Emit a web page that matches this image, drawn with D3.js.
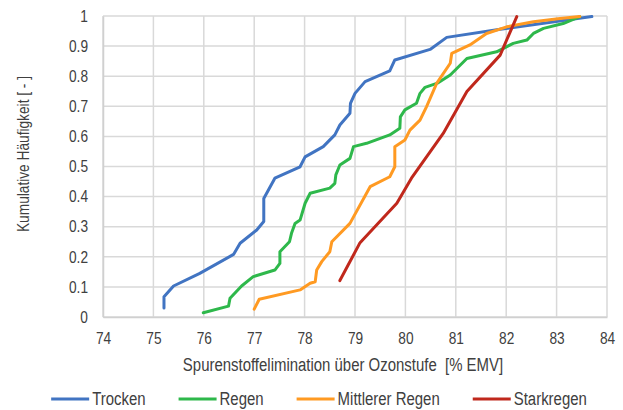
<!DOCTYPE html>
<html>
<head>
<meta charset="utf-8">
<script src="https://cdn.jsdelivr.net/npm/d3@7"></script>
<style>
  html, body { margin: 0; padding: 0; background: #fff; }
  svg { display: block; }
  text { font-family: "Liberation Sans Narrow", "Arial Narrow", "Liberation Sans", Arial, sans-serif; fill: #404040; }
</style>
</head>
<body>
<svg id="chart" width="623" height="410"></svg>
<script>
// Cumulative frequency of micropollutant elimination across the ozone stage, per weather class
const seriesNames = ["Trocken", "Regen", "Mittlerer Regen", "Starkregen"];
const seriesColors = ["#4174c2", "#2eb84b", "#ff9a22", "#c0281c"];

const trocken = [
  [75.21, 0.030], [75.21, 0.067], [75.40, 0.103], [75.92, 0.145], [76.59, 0.208],
  [76.72, 0.245], [77.05, 0.289], [77.19, 0.317], [77.19, 0.394], [77.41, 0.461],
  [77.91, 0.499], [78.01, 0.532], [78.37, 0.566], [78.60, 0.605], [78.70, 0.638],
  [78.90, 0.677], [78.91, 0.710], [79.00, 0.743], [79.20, 0.782], [79.69, 0.818],
  [79.79, 0.854], [80.49, 0.889], [80.82, 0.929], [81.88, 0.956], [83.70, 0.998]
];

const regen = [
  [75.99, 0.014], [76.49, 0.036], [76.52, 0.062], [76.75, 0.103], [76.98, 0.134],
  [77.41, 0.156], [77.51, 0.178], [77.51, 0.217], [77.70, 0.250], [77.74, 0.278],
  [77.81, 0.311], [77.91, 0.322], [78.01, 0.378], [78.11, 0.411], [78.50, 0.428],
  [78.60, 0.444], [78.62, 0.472], [78.70, 0.505], [78.90, 0.527], [78.97, 0.566],
  [79.23, 0.577], [79.69, 0.605], [79.89, 0.627], [79.90, 0.665], [79.99, 0.688],
  [80.22, 0.710], [80.29, 0.743], [80.39, 0.763], [80.65, 0.778], [80.89, 0.804],
  [81.22, 0.859], [81.81, 0.881], [82.14, 0.909], [82.41, 0.920], [82.54, 0.942],
  [82.74, 0.959], [83.13, 0.975], [83.46, 0.998]
];

const mittlererRegen = [
  [77.00, 0.026], [77.10, 0.059], [77.91, 0.090], [78.11, 0.112], [78.21, 0.117],
  [78.24, 0.156], [78.34, 0.184], [78.50, 0.217], [78.54, 0.250], [78.90, 0.311],
  [79.30, 0.433], [79.69, 0.466], [79.79, 0.499], [79.79, 0.566], [79.99, 0.588],
  [80.09, 0.621], [80.29, 0.654], [80.42, 0.699], [80.62, 0.776], [80.89, 0.843],
  [80.92, 0.876], [81.28, 0.904], [81.61, 0.942], [82.01, 0.964], [82.54, 0.981],
  [83.07, 0.992], [83.46, 0.998]
];

const starkregen = [
  [78.70, 0.121], [79.10, 0.247], [79.83, 0.378], [80.12, 0.461], [80.75, 0.610],
  [81.22, 0.749], [81.88, 0.870], [82.21, 0.998]
];

const xTicks = [74, 75, 76, 77, 78, 79, 80, 81, 82, 83, 84];
const yTicks = [0, 0.1, 0.2, 0.3, 0.4, 0.5, 0.6, 0.7, 0.8, 0.9, 1];

const xTitle = "Spurenstoffelimination über Ozonstufe  [% EMV]";
const yTitle = "Kumulative Häufigkeit [ - ]";

const allSeries = [trocken, regen, mittlererRegen, starkregen];

const svg = d3.select("#chart");
const plot = { left: 103, right: 607, top: 16, bottom: 317 };

const x = d3.scaleLinear().domain([74, 84]).range([plot.left, plot.right]);
const y = d3.scaleLinear().domain([0, 1]).range([plot.bottom, plot.top]);

// Squeeze text horizontally to get a narrow typeface look
function condense(sel, k) {
  sel.each(function () {
    const w = this.getComputedTextLength();
    d3.select(this).attr("textLength", w * k).attr("lengthAdjust", "spacingAndGlyphs");
  });
}
const NARROW = 0.83;

// Grid
const grid = svg.append("g").attr("class", "grid");
grid.selectAll("line.v").data(xTicks).join("line")
  .attr("x1", d => x(d)).attr("x2", d => x(d))
  .attr("y1", plot.top).attr("y2", plot.bottom)
  .attr("stroke", "#d9d9d9").attr("stroke-width", 1.5);
grid.selectAll("line.h").data(yTicks).join("line")
  .attr("x1", plot.left).attr("x2", plot.right)
  .attr("y1", d => y(d)).attr("y2", d => y(d))
  .attr("stroke", "#d9d9d9").attr("stroke-width", 1.5);

// Axes
const xAxis = d3.axisBottom(x).tickValues(xTicks).tickSize(0).tickPadding(15).tickFormat(d3.format("d"));
const yAxis = d3.axisLeft(y).tickValues(yTicks).tickSize(0).tickPadding(15).tickFormat(d => String(+d.toFixed(1)));

const gx = svg.append("g").attr("transform", `translate(0,${plot.bottom})`).call(xAxis);
const gy = svg.append("g").attr("transform", `translate(${plot.left},0)`).call(yAxis);
[gx, gy].forEach(g => {
  g.select(".domain").attr("stroke", "#d0d0d0").attr("stroke-width", 1.5);
  g.selectAll("text").attr("font-size", 16.5).attr("fill", "#404040")
    .style("font-family", '"Liberation Sans Narrow", "Arial Narrow", "Liberation Sans", Arial, sans-serif');
  condense(g.selectAll("text"), NARROW);
});
gx.selectAll("text").attr("dy", "0.71em");

// Axis titles
const xt = svg.append("text")
  .attr("x", 343).attr("y", 371)
  .attr("text-anchor", "middle")
  .attr("font-size", 18)
  .style("white-space", "pre")
  .text(xTitle);
condense(xt, NARROW);

const yt = svg.append("text")
  .attr("transform", "translate(29,154) rotate(-90)")
  .attr("text-anchor", "middle")
  .attr("font-size", 16.5)
  .text(yTitle);
condense(yt, NARROW);

// Lines
const line = d3.line().x(d => x(d[0])).y(d => y(d[1]));
svg.append("g").selectAll("path").data(allSeries).join("path")
  .attr("d", line)
  .attr("fill", "none")
  .attr("stroke", (d, i) => seriesColors[i])
  .attr("stroke-width", 3)
  .attr("stroke-linejoin", "round")
  .attr("stroke-linecap", "round");

// Legend
const legend = svg.append("g");
const legY = 399;
const items = legend.selectAll("g").data(seriesNames).join("g");
items.append("line")
  .attr("x1", 0).attr("x2", 38).attr("y1", 0).attr("y2", 0)
  .attr("stroke", (d, i) => seriesColors[i]).attr("stroke-width", 3);
const legText = items.append("text")
  .attr("x", 41).attr("y", 0).attr("dy", "0.35em")
  .attr("font-size", 18)
  .text(d => d);
condense(legText, NARROW);
const widths = [];
items.each(function () {
  widths.push(this.getBBox().width);
});
const gap = 33;
const total = d3.sum(widths) + gap * (widths.length - 1);
let cursor = 319 - total / 2;
items.attr("transform", (d, i) => {
  const t = `translate(${cursor},${legY})`;
  cursor += widths[i] + gap;
  return t;
});
</script>
</body>
</html>
